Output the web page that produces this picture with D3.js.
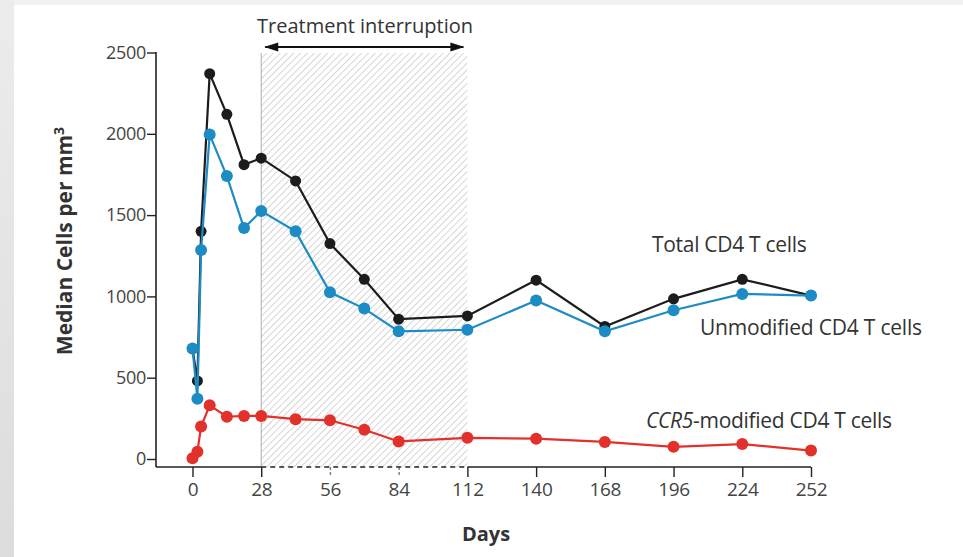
<!DOCTYPE html>
<html><head><meta charset="utf-8">
<script src="https://cdn.jsdelivr.net/npm/d3@7"></script>
<style>
html,body{margin:0;padding:0;background:#fff;}
svg{display:block;font-family:"Open Sans",sans-serif;}
</style></head>
<body><svg id="c" width="963" height="557"></svg>
<script>
const days = [0, 2, 3.5, 7, 14, 21, 28, 42, 56, 70, 84, 112, 140, 168, 196, 224, 252];
const totalCD4 = [678, 480, 1400, 2370, 2120, 1810, 1850, 1710, 1325, 1105, 860, 880, 1100, 815, 985, 1105, 1005];
const unmodCD4 = [680, 370, 1285, 1995, 1740, 1420, 1525, 1400, 1025, 925, 785, 795, 975, 785, 915, 1015, 1005];
const ccr5CD4 = [5, 45, 200, 330, 260, 265, 265, 245, 238, 180, 108, 130, 125, 105, 75, 92, 52];
const xTicks = [0, 28, 56, 84, 112, 140, 168, 196, 224, 252];
const yTicks = [0, 500, 1000, 1500, 2000, 2500];
const interruption = [28, 112];

const svg = d3.select("#c");
// background strips
svg.append("rect").attr("x",0).attr("y",0).attr("width",963).attr("height",5).attr("fill","#f1f1f1");
const defs = svg.append("defs");
const lg = defs.append("linearGradient").attr("id","lg").attr("x1",0).attr("x2",0).attr("y1",0).attr("y2",1);
lg.append("stop").attr("offset","0").attr("stop-color","#ececec");
lg.append("stop").attr("offset","1").attr("stop-color","#dcdcdc");
svg.append("rect").attr("x",0).attr("y",0).attr("width",14).attr("height",557).attr("fill","url(#lg)");

const pat = defs.append("pattern").attr("id","hatch").attr("patternUnits","userSpaceOnUse")
  .attr("width",4.8).attr("height",4.8).attr("patternTransform","rotate(45)");
pat.append("line").attr("x1",0).attr("y1",0).attr("x2",0).attr("y2",4.8).attr("stroke","#ababab").attr("stroke-width",1);

const x = d3.scaleLinear().domain([0,252]).range([192.5,811]);
const y = d3.scaleLinear().domain([0,2500]).range([459,52.5]);
const axisY = 467, axisX = 156;

// hatched region
svg.append("rect").attr("x",x(interruption[0])).attr("y",53)
  .attr("width",x(interruption[1])-x(interruption[0])).attr("height",axisY-53)
  .attr("fill","url(#hatch)");
svg.append("line").attr("x1",x(interruption[0])).attr("x2",x(interruption[0]))
  .attr("y1",53).attr("y2",axisY).attr("stroke","#9a9a9a").attr("stroke-width",0.8);

// axes
const yAxis = d3.axisLeft(y).tickValues(yTicks).tickFormat(d3.format("d")).tickSize(9).tickSizeOuter(0).tickPadding(1);
const gy = svg.append("g").attr("transform",`translate(${axisX},0)`).call(yAxis);
gy.select(".domain").remove();
gy.selectAll("text").attr("font-size",18).attr("fill","#444").attr("font-family","Open Sans, sans-serif").attr("letter-spacing","-0.3");
gy.selectAll("line").attr("stroke","#222").attr("stroke-width",1.4);
svg.append("line").attr("x1",axisX).attr("x2",axisX).attr("y1",52).attr("y2",axisY).attr("stroke","#222").attr("stroke-width",1.6);

const xAxis = d3.axisBottom(x).tickValues(xTicks).tickFormat(d3.format("d")).tickSize(10).tickSizeOuter(0).tickPadding(6);
const gx = svg.append("g").attr("transform",`translate(0,${axisY})`).call(xAxis);
gx.select(".domain").remove();
gx.selectAll("text").attr("font-size",19).attr("fill","#444").attr("font-family","Open Sans, sans-serif").attr("letter-spacing","-0.3");
gx.selectAll("line").attr("stroke","#222").attr("stroke-width",1.4);
gx.selectAll(".tick").filter(d => d > interruption[0] && d < interruption[1]).select("line")
  .attr("stroke","#777").attr("stroke-dasharray","3,2");
// x axis line: solid, dashed during interruption
svg.append("line").attr("x1",axisX).attr("x2",x(interruption[0])).attr("y1",axisY).attr("y2",axisY).attr("stroke","#222").attr("stroke-width",1.6);
svg.append("line").attr("x1",x(interruption[0])).attr("x2",x(interruption[1])).attr("y1",axisY).attr("y2",axisY).attr("stroke","#222").attr("stroke-width",1.6).attr("stroke-dasharray","5,4");
svg.append("line").attr("x1",x(interruption[1])).attr("x2",x(252)).attr("y1",axisY).attr("y2",axisY).attr("stroke","#222").attr("stroke-width",1.6);

// axis titles
svg.append("text").attr("x",486).attr("y",541).attr("text-anchor","middle")
  .attr("font-size",20).attr("font-weight","bold").attr("fill","#333").text("Days");
const yt = svg.append("text").attr("transform","translate(72,241) rotate(-90)").attr("text-anchor","middle")
  .attr("font-size",21).attr("font-weight","bold").attr("fill","#333");
yt.append("tspan").text("Median Cells per mm");
yt.append("tspan").attr("font-size",14).attr("dy",-8).text("3");

// arrow
const ay = 47;
svg.append("line").attr("x1",x(interruption[0])+4).attr("x2",x(interruption[1])-4).attr("y1",ay).attr("y2",ay)
  .attr("stroke","#111").attr("stroke-width",1.8);
const ax0 = x(interruption[0])+3, ax1 = x(interruption[1])-3;
svg.append("path").attr("d",`M${ax0},${ay} L${ax0+14},${ay-4.5} L${ax0+14},${ay+4.5} Z`).attr("fill","#111");
svg.append("path").attr("d",`M${ax1},${ay} L${ax1-14},${ay-4.5} L${ax1-14},${ay+4.5} Z`).attr("fill","#111");
svg.append("text").attr("x",365).attr("y",33).attr("text-anchor","middle").attr("font-size",20)
  .attr("fill","#333").text("Treatment interruption");

// series
const series = [
  {vals: totalCD4, color: "#1c1c1c", r: 5.5},
  {vals: unmodCD4, color: "#1e8cc4", r: 6},
  {vals: ccr5CD4, color: "#e2302b", r: 6}
];
const line = d3.line().x(d => x(d[0])).y(d => y(d[1]));
series.forEach(s => {
  const pts = days.map((d,i) => [d, s.vals[i]]);
  svg.append("path").datum(pts).attr("d",line).attr("fill","none").attr("stroke",s.color).attr("stroke-width",2.2);
  svg.append("g").selectAll("circle").data(pts).join("circle")
    .attr("cx",d => x(d[0])).attr("cy",d => y(d[1])).attr("r",s.r).attr("fill",s.color);
});

// series labels
svg.append("text").attr("x",652).attr("y",252).attr("font-size",21).attr("fill","#333").attr("letter-spacing","-0.3").text("Total CD4 T cells");
svg.append("text").attr("x",700).attr("y",335).attr("font-size",21).attr("fill","#333").attr("letter-spacing","-0.2").text("Unmodified CD4 T cells");
const cl = svg.append("text").attr("x",646).attr("y",428).attr("font-size",21).attr("fill","#333").attr("letter-spacing","-0.3");
cl.append("tspan").attr("font-style","italic").text("CCR5");
cl.append("tspan").text("-modified CD4 T cells");
</script></body></html>
